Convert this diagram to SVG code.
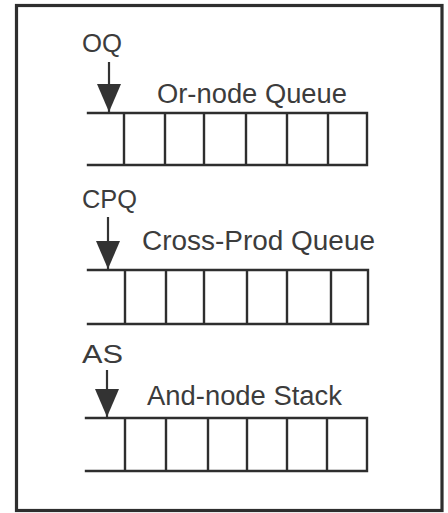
<svg xmlns="http://www.w3.org/2000/svg" width="448" height="513" viewBox="0 0 448 513">
<style>
.frame{fill:none;stroke:#2e2e2e;stroke-width:3.2}
.q{fill:none;stroke:#2e2e2e;stroke-width:2.4;stroke-linecap:square}
.lbl{font-family:"Liberation Sans",Arial,sans-serif;font-size:27px;fill:#3c3c3c}
.ptr{font-family:"Liberation Sans",Arial,sans-serif;font-size:26px;fill:#3c3c3c}
.arr{stroke:#333;stroke-width:2.2;fill:none;marker-end:url(#head)}
</style>
<defs>
<marker id="head" markerUnits="userSpaceOnUse" markerWidth="28" markerHeight="24" refX="28" refY="12" orient="auto">
<path d="M0,0 L28,12 L0,24 z" fill="#333"/>
</marker>
</defs>
<rect width="448" height="513" fill="#fff"/>
<rect class="frame" x="16.5" y="5.5" width="425.5" height="505"/>
<g id="or-node-queue">
<text class="ptr" x="82" y="52" textLength="40" lengthAdjust="spacingAndGlyphs">OQ</text>
<text class="lbl" x="157" y="103" textLength="190" lengthAdjust="spacingAndGlyphs">Or-node Queue</text>
<path class="q" d="M88,113 H367 M88,165 H367 M124,113 V165 M165,113 V165 M204,113 V165 M246,113 V165 M287,113 V165 M328,113 V165 M367,113 V165"/>
</g>
<g id="cross-prod-queue">
<text class="ptr" x="82" y="208" textLength="55" lengthAdjust="spacingAndGlyphs">CPQ</text>
<text class="lbl" x="142" y="250" textLength="233" lengthAdjust="spacingAndGlyphs">Cross-Prod Queue</text>
<path class="q" d="M88,270 H368 M88,324 H368 M125,270 V324 M166,270 V324 M204,270 V324 M247,270 V324 M287,270 V324 M331,270 V324 M368,270 V324"/>
</g>
<g id="and-node-stack">
<text class="ptr" x="82" y="363" textLength="41" lengthAdjust="spacingAndGlyphs">AS</text>
<text class="lbl" x="147" y="405" textLength="195" lengthAdjust="spacingAndGlyphs">And-node Stack</text>
<path class="q" d="M86,418 H367 M86,471 H367 M125,418 V471 M166,418 V471 M208,418 V471 M247,418 V471 M287,418 V471 M327,418 V471 M367,418 V471"/>
</g>
<g id="connectors">
<line class="arr" x1="109" y1="62" x2="109" y2="112"/>
<line class="arr" x1="108" y1="217" x2="108" y2="269"/>
<line class="arr" x1="107" y1="370" x2="107" y2="417"/>
</g>
</svg>
